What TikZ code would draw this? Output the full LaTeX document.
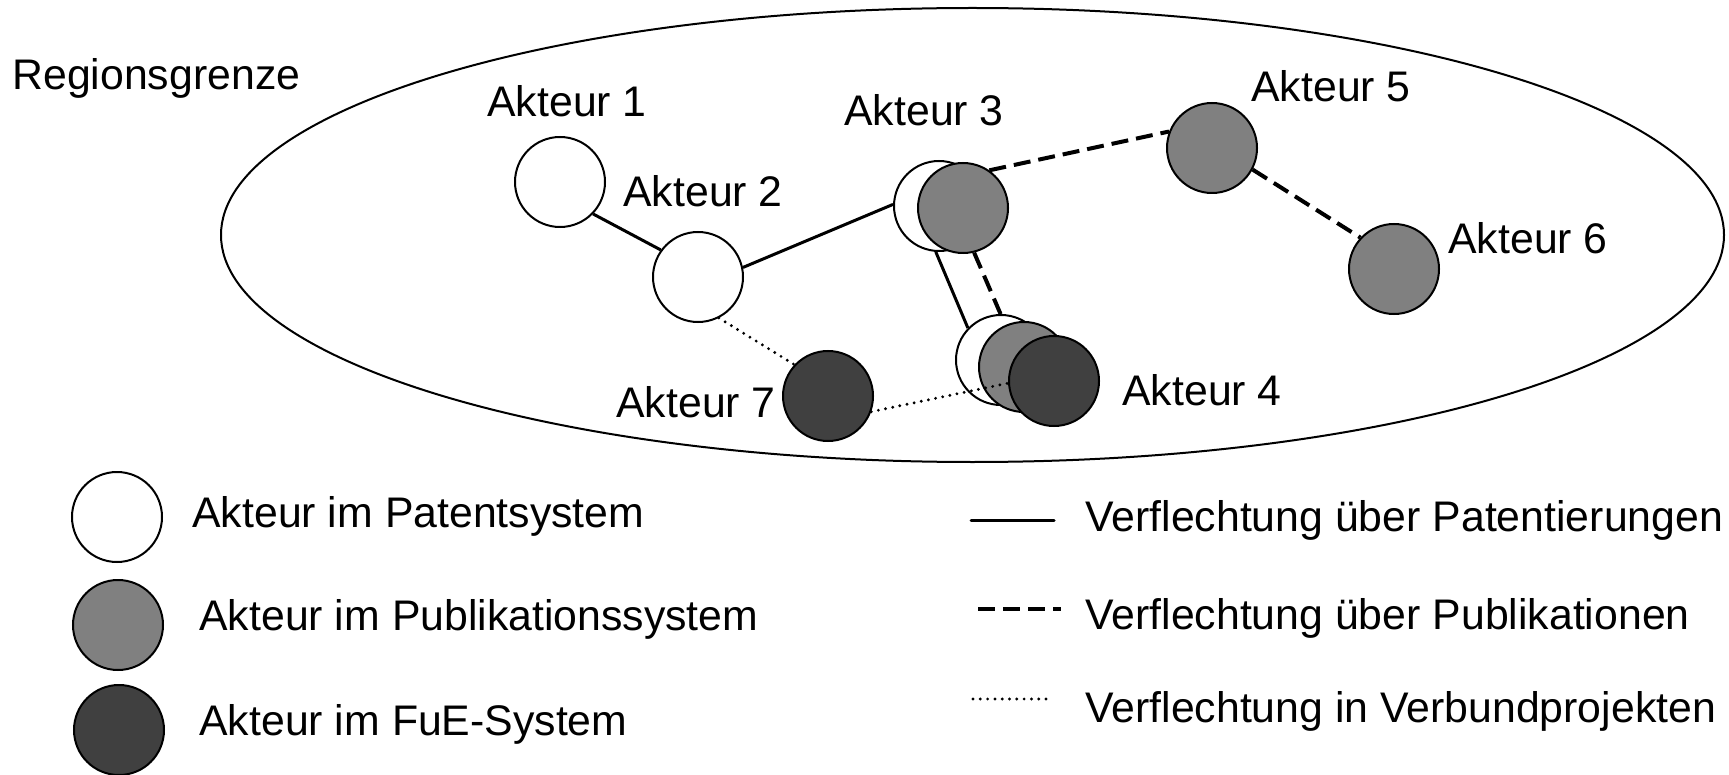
\documentclass[tikz,border=0pt]{standalone}
\usepackage{fontspec}
\setmainfont{Liberation Sans}
\usetikzlibrary{backgrounds}

\definecolor{publgray}{HTML}{808080}
\definecolor{fuegray}{HTML}{404040}

\begin{document}
\begin{tikzpicture}[x=0.5pt,y=-0.5pt,
    akteur/.style={circle,draw,line width=1pt,minimum size=45pt,inner sep=0pt},
    patent/.style={akteur,fill=white},
    publ/.style={akteur,fill=publgray},
    fue/.style={akteur,fill=fuegray},
    lbl/.style={anchor=base west,inner sep=0pt,font=\fontsize{21.4}{25}\selectfont},
    verfpat/.style={line width=1.5pt},
    verfpub/.style={line width=2pt,dash pattern=on 8.5pt off 4pt},
    verfverb/.style={line width=1.6pt,line cap=round,dash pattern=on 0pt off 3.65pt}]
  \useasboundingbox (0,0) rectangle (1729,775);

  % region
  \draw[line width=1pt] (972.5,235) ellipse [x radius=751.5,y radius=227];
  \node[lbl] (region) at (12,90) {Regionsgrenze};

  % actors
  \node[patent] (a1) at (560,182) {};
  \node[patent] (a2) at (698,277) {};
  \node[patent] (w3) at (939,206) {};
  \node[publ]   (g3) at (963,208) {};
  \node[publ]   (a5) at (1212,148) {};
  \node[publ]   (a6) at (1394,269) {};
  \node[patent] (w4) at (1001,360) {};
  \node[publ]   (g4) at (1024,367) {};
  \node[fue]    (d7) at (828,396) {};

  \begin{pgfonlayer}{background}
    \draw[verfpat] (a1.-44) -- (a2.144);
    \draw[verfpat] (a2.12) -- (w3.178);
    \draw[verfpat] (w3.266) -- (w4.136);
    \draw[verfpub] (g3.55) -- (a5.159);
    \draw[verfpub] (a5.-28) -- (a6.137);
    \draw[verfpub] (g3.284) -- (g4.114);
    \draw[verfverb] (a2.-63) -- (d7.137);
  \end{pgfonlayer}
  \draw[verfverb] (d7.-20) -- (1009,383);
  \node[fue]    (d4) at (1054,381) {};

  \node[lbl] (l1) at (487,117) {Akteur 1};
  \node[lbl] (l2) at (623,207) {Akteur 2};
  \node[lbl] (l3) at (844,126) {Akteur 3};
  \node[lbl] (l4) at (1122,405) {Akteur 4};
  \node[lbl] (l5) at (1251,102) {Akteur 5};
  \node[lbl] (l6) at (1448,254) {Akteur 6};
  \node[lbl] (l7) at (616,417) {Akteur 7};

  % legend
  \node[patent] (kpat) at (117,517) {};
  \node[publ]   (kpub) at (118,625) {};
  \node[fue]    (kfue) at (119,730) {};
  \node[lbl] at (192,527) {Akteur im Patentsystem};
  \node[lbl] at (199,630) {Akteur im Publikationssystem};
  \node[lbl] at (199,735) {Akteur im FuE-System};

  \draw[verfpat,line cap=round] (971,520) -- (1054,520);
  \draw[verfpub] (978,609) -- (1061,609);
  \draw[verfverb] (973,699) -- (1053,699);
  \node[lbl] at (1085,531) {Verflechtung über Patentierungen};
  \node[lbl] at (1085,629) {Verflechtung über Publikationen};
  \node[lbl] at (1085,722) {Verflechtung in Verbundprojekten};
\end{tikzpicture}
\end{document}
